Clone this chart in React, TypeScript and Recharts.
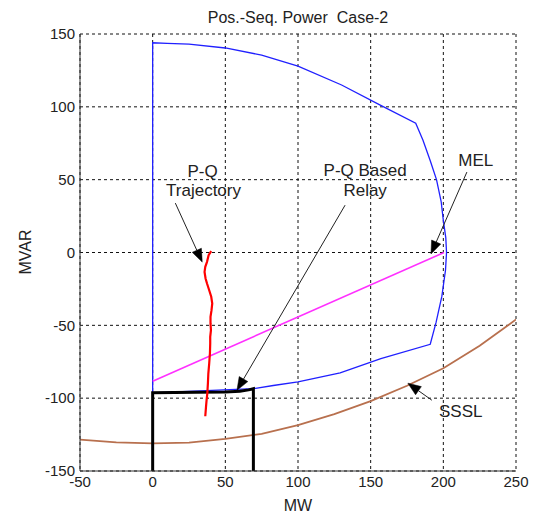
import React from 'react';
import {
  LineChart,
  Line,
  XAxis,
  YAxis,
  CartesianGrid,
  ReferenceLine,
  ReferenceDot,
  Customized,
} from 'recharts';

// ---------- data ----------
const xTicks = [-50, 0, 50, 100, 150, 200, 250];
const yTicks = [-150, -100, -50, 0, 50, 100, 150];

// Generator capability curve (blue, closed)
const capabilityCurve = [
  { x: 0, y: -96.3 },
  { x: 69.3, y: -93.5 },
  { x: 83, y: -91.3 },
  { x: 100, y: -88.8 },
  { x: 129, y: -82.7 },
  { x: 157, y: -72.8 },
  { x: 191, y: -63 },
  { x: 195, y: -48 },
  { x: 199, y: -30 },
  { x: 201.5, y: -12 },
  { x: 202.2, y: 0 },
  { x: 201.7, y: 10 },
  { x: 200, y: 22 },
  { x: 198.5, y: 35 },
  { x: 195.3, y: 50 },
  { x: 191, y: 63 },
  { x: 186, y: 77 },
  { x: 181, y: 88.7 },
  { x: 156.6, y: 101.2 },
  { x: 130, y: 115 },
  { x: 100, y: 128 },
  { x: 75, y: 135.5 },
  { x: 50, y: 140.4 },
  { x: 25, y: 143 },
  { x: 10, y: 143.6 },
  { x: 0, y: 144 },
  { x: 0, y: -96.3 },
];

// P-Q based relay characteristic (black)
const relayBox = [
  { x: 0, y: -150 },
  { x: 0, y: -96.3 },
  { x: 30, y: -96 },
  { x: 50, y: -95.7 },
  { x: 60, y: -95.2 },
  { x: 66, y: -94.3 },
  { x: 69.3, y: -93.5 },
  { x: 69.3, y: -150 },
];

// Minimum excitation limiter (magenta)
const melLine = [
  { x: 0, y: -88.4 },
  { x: 200.5, y: 0 },
];

// Steady-state stability limit (brown)
const sssl = [
  { x: -50, y: -128.5 },
  { x: -25, y: -130.3 },
  { x: 0, y: -131 },
  { x: 25, y: -130.5 },
  { x: 50, y: -128 },
  { x: 75, y: -124.5 },
  { x: 100, y: -118.5 },
  { x: 125, y: -111 },
  { x: 150, y: -102 },
  { x: 175, y: -91.5 },
  { x: 200, y: -79.5 },
  { x: 225, y: -64 },
  { x: 250, y: -46 },
];

// P-Q trajectory (red)
const trajectory = [
  { x: 40.3, y: 1 },
  { x: 38.5, y: -1.8 },
  { x: 37.4, y: -6.4 },
  { x: 36.2, y: -9.8 },
  { x: 35.7, y: -13.3 },
  { x: 36.4, y: -17.8 },
  { x: 37.4, y: -21.3 },
  { x: 38.9, y: -25.9 },
  { x: 40.3, y: -30.4 },
  { x: 41, y: -35 },
  { x: 40.5, y: -39.6 },
  { x: 39.8, y: -44.2 },
  { x: 39.8, y: -48.7 },
  { x: 40.1, y: -53.3 },
  { x: 39.6, y: -57.9 },
  { x: 39.6, y: -62.5 },
  { x: 39.4, y: -69.3 },
  { x: 38.9, y: -76.2 },
  { x: 38.3, y: -83.1 },
  { x: 38, y: -90 },
  { x: 37.6, y: -96.8 },
  { x: 37.1, y: -101.4 },
  { x: 36.7, y: -106 },
  { x: 36.2, y: -112.4 },
];

// Annotation arrows (from -> tip), data coordinates
const arrows = [
  { from: { x: 15.6, y: 33.9 }, to: { x: 34.1, y: -6.6 } },
  { from: { x: 132.4, y: 32.5 }, to: { x: 58, y: -94.6 } },
  { from: { x: 216.2, y: 55.2 }, to: { x: 191.5, y: -1 } },
  { from: { x: 192.1, y: -101.4 }, to: { x: 175.6, y: -89.7 } },
];

// Annotation texts, data coordinates (centre)
const notes = [
  { x: 34.3, y: 55.9, text: 'P-Q' },
  { x: 35, y: 42.8, text: 'Trajectory' },
  { x: 146.2, y: 56.6, text: 'P-Q Based' },
  { x: 146.2, y: 42.8, text: 'Relay' },
  { x: 222.3, y: 63.4, text: 'MEL' },
  { x: 212, y: -109, text: 'SSSL' },
];

const FONT = '"Liberation Sans", Arial, sans-serif';
const TEXT = '#222';

const ArrowShape = (props: any) => {
  const { x1, y1, x2, y2 } = props;
  if ([x1, y1, x2, y2].some((v) => typeof v !== 'number' || isNaN(v))) return null;
  const dx = x2 - x1;
  const dy = y2 - y1;
  const len = Math.sqrt(dx * dx + dy * dy) || 1;
  const ux = dx / len;
  const uy = dy / len;
  const hl = 13;
  const hw = 5;
  const bx = x2 - ux * hl;
  const by = y2 - uy * hl;
  const p1 = `${x2},${y2}`;
  const p2 = `${bx - uy * hw},${by + ux * hw}`;
  const p3 = `${bx + uy * hw},${by - ux * hw}`;
  return (
    <g>
      <line x1={x1} y1={y1} x2={bx} y2={by} stroke="#222" strokeWidth={1} />
      <polygon points={`${p1} ${p2} ${p3}`} fill="#000" stroke="#000" strokeWidth={0.5} />
    </g>
  );
};

const makeNoteShape = (text: string) => (props: any) => {
  const { cx, cy } = props;
  if (typeof cx !== 'number' || typeof cy !== 'number') return null;
  return (
    <text
      x={cx}
      y={cy}
      textAnchor="middle"
      dominantBaseline="central"
      fontFamily={FONT}
      fontSize={17}
      fill={TEXT}
    >
      {text}
    </text>
  );
};

const Labels = () => (
  <g>
    <text
      x={298}
      y={17}
      textAnchor="middle"
      dominantBaseline="central"
      fontFamily={FONT}
      fontSize={16}
      fill={TEXT}
    >
      {'Pos.-Seq. Power\u00A0 Case-2'}
    </text>
    <text
      x={298}
      y={505}
      textAnchor="middle"
      dominantBaseline="central"
      fontFamily={FONT}
      fontSize={16}
      fill={TEXT}
    >
      MW
    </text>
    <text
      x={25}
      y={252}
      textAnchor="middle"
      dominantBaseline="central"
      fontFamily={FONT}
      fontSize={16}
      fill={TEXT}
      transform="rotate(-90 25 252)"
    >
      MVAR
    </text>
  </g>
);

const tickStyle = { fill: TEXT, fontSize: 15, fontFamily: FONT };

export default function App() {
  return (
    <div style={{ position: 'absolute', left: 0, top: 0, width: 535, height: 515, background: '#fff' }}>
      <LineChart width={535} height={515} margin={{ top: 34, right: 19, bottom: 14, left: 30 }}>
        <CartesianGrid stroke="#111" strokeDasharray="3 3" strokeWidth={1} />
        <XAxis
          type="number"
          dataKey="x"
          domain={[-50, 250]}
          ticks={xTicks}
          height={30}
          tickLine={false}
          tickSize={3}
          axisLine={{ stroke: '#333', strokeWidth: 1 }}
          tick={tickStyle}
          allowDataOverflow
          interval={0}
        />
        <YAxis
          type="number"
          dataKey="y"
          domain={[-150, 150]}
          ticks={yTicks}
          width={50}
          tickLine={false}
          tickSize={3}
          axisLine={{ stroke: '#333', strokeWidth: 1 }}
          tick={tickStyle}
          allowDataOverflow
          interval={0}
        />
        <Line data={sssl} dataKey="y" type="linear" stroke="#b8704e" strokeWidth={1.8} dot={false} isAnimationActive={false} />
        <Line data={capabilityCurve} dataKey="y" type="linear" stroke="#2020ff" strokeWidth={1.3} dot={false} isAnimationActive={false} />
        <Line data={melLine} dataKey="y" type="linear" stroke="#ff30ff" strokeWidth={1.6} dot={false} isAnimationActive={false} />
        <Line data={relayBox} dataKey="y" type="linear" stroke="#000" strokeWidth={3} dot={false} isAnimationActive={false} />
        <Line data={trajectory} dataKey="y" type="linear" stroke="#ff0000" strokeWidth={2.2} dot={false} isAnimationActive={false} />
        {arrows.map((a, i) => (
          <ReferenceLine key={`arr-${i}`} segment={[a.from, a.to]} shape={ArrowShape} />
        ))}
        {notes.map((n, i) => (
          <ReferenceDot key={`note-${i}`} x={n.x} y={n.y} r={0} shape={makeNoteShape(n.text)} />
        ))}
        <Customized component={Labels} />
      </LineChart>
    </div>
  );
}
